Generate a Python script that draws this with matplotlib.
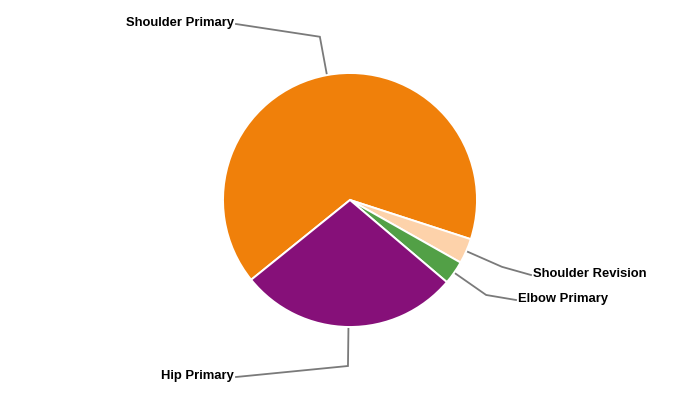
import numpy as np
import matplotlib
matplotlib.use("Agg")
import matplotlib.pyplot as plt

# Share of procedures per joint / type (percent)
labels = ["Shoulder Primary", "Shoulder Revision", "Elbow Primary", "Hip Primary"]
values = [65.8, 3.2, 3.0, 28.0]
colors = ["#F0800A", "#FDD2AA", "#52A046", "#861079"]

W, H = 700, 400
center = (350, H - 200)
radius = 127
start_angle = 218.9

# label anchors in pixel coords (x, y from top), and text alignment
label_pos = {
    "Shoulder Primary": (234, 23, "right"),
    "Shoulder Revision": (533, 274, "left"),
    "Elbow Primary": (518, 299, "left"),
    "Hip Primary": (234, 376, "right"),
}

fig = plt.figure(figsize=(7, 4), dpi=100)
ax = fig.add_axes([0, 0, 1, 1])

wedges, _ = ax.pie(values, colors=colors, startangle=start_angle, counterclock=False,
                   center=center, radius=radius,
                   wedgeprops=dict(edgecolor="white", linewidth=1.4))
for w in wedges:
    w.set_zorder(3)

# pie() resets the limits, so set them afterwards
ax.set_xlim(0, W)
ax.set_ylim(0, H)
ax.set_aspect("equal")
ax.axis("off")

# connectors + labels
for w, lab in zip(wedges, labels):
    mid = np.deg2rad((w.theta1 + w.theta2) / 2)
    x0 = center[0] + radius * np.cos(mid)
    y0 = center[1] + radius * np.sin(mid)
    x1 = center[0] + (radius + 39) * np.cos(mid)
    y1 = center[1] + (radius + 39) * np.sin(mid)
    lx, ly, ha = label_pos[lab]
    ly = H - ly
    ex = lx + 2 if ha == "right" else lx - 2
    ax.plot([x0, x1, ex], [y0, y1, ly - 1], color="#7a7a7a", lw=1.3, zorder=1,
            solid_joinstyle="miter")
    ax.text(lx, ly, lab, ha=ha, va="center", fontsize=9.4, fontweight="bold",
            family=["Liberation Sans", "DejaVu Sans"], color="#000000")

fig.savefig("out.png", dpi=100)
